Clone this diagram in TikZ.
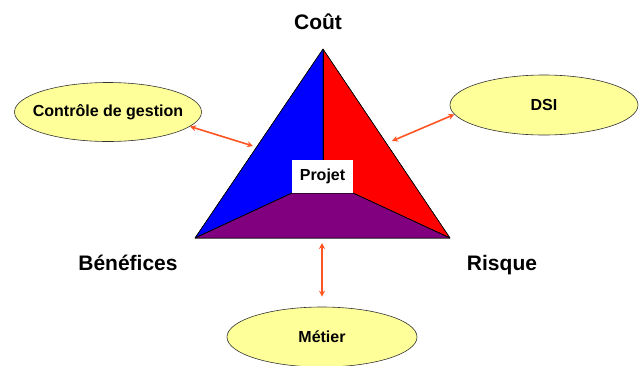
\documentclass[tikz,border=0pt]{standalone}
\usepackage{fontspec}
\setmainfont{Liberation Sans}
\usepackage{tikz}
\usetikzlibrary{shapes.geometric, arrows.meta, positioning}
\definecolor{paleyellow}{RGB}{255,255,153}
\definecolor{linkorange}{RGB}{255,85,35}
\definecolor{projpurple}{RGB}{128,0,128}
\tikzstyle{actor} = [ellipse, minimum width=187pt, minimum height=59pt, inner xsep=-12pt, inner ysep=0pt, text centered, draw=black!80, line width=0.6pt, fill=paleyellow, font=\bfseries\fontsize{16}{19}\selectfont]
\tikzstyle{corner} = [anchor=base, font=\bfseries\fontsize{21}{25}\selectfont]
\tikzstyle{link} = [draw=linkorange, line width=1.6pt, {Stealth[length=6pt,width=6pt]}-{Stealth[length=6pt,width=6pt]}]
\tikzstyle{face} = [draw=black, line width=0.5pt, line join=round]

\begin{document}
\begin{tikzpicture}[x=1pt, y=-1pt]
				\useasboundingbox (0,0) rectangle (642,365);
				
				% Corners of the triangle
				\coordinate (top) at (323,49);
				\coordinate (bl) at (195,238);
				\coordinate (br) at (450,238);
				\coordinate (innerl) at (292,193);
				\coordinate (innerm) at (323,193);
				\coordinate (innerr) at (353,193);
				
				% Faces
				\fill [face, fill=blue] (top) -- (bl) -- (innerl) -- (innerm) -- cycle;
				\fill [face, fill=red] (top) -- (innerm) -- (innerr) -- (br) -- cycle;
				\fill [face, fill=projpurple] (bl) -- (innerl) -- (innerr) -- (br) -- cycle;
				\draw [face] (top) -- (innerm);
				\draw [face] (bl) -- (innerl) -- (innerr) -- (br);
				\draw [face] (top) -- (bl) -- (br) -- cycle;
				\node (projet) [fill=white, minimum width=61pt, minimum height=33pt, inner sep=0pt, font=\bfseries\fontsize{16}{19}\selectfont] at (322.5,176.5) {Projet};
				
				% Corner labels
				\node (cout) [corner] at (318,29) {Coût};
				\node (benef) [corner] at (128,270) {Bénéfices};
				\node (risque) [corner] at (502,270) {Risque};
				
				% Actors
				\node (ctrl) [actor] at (108,112) {Contrôle de gestion};
				\node (dsi) [actor, minimum width=188pt, minimum height=60pt] at (544,105) {DSI};
				\node (metier) [actor, minimum width=190pt, minimum height=60pt] at (322,337) {Métier};
				
				% Links
				\coordinate (edgel) at (253,146);
				\coordinate (edger) at (392,141);
				\coordinate (edgeb) at (322,243);
				\draw [link] (ctrl.-10) -- (edgel);
				\draw [link] (dsi.186) -- (edger);
				\draw [link, shorten >=10pt] (edgeb) -- (metier.north);
				
			\end{tikzpicture}
\end{document}
